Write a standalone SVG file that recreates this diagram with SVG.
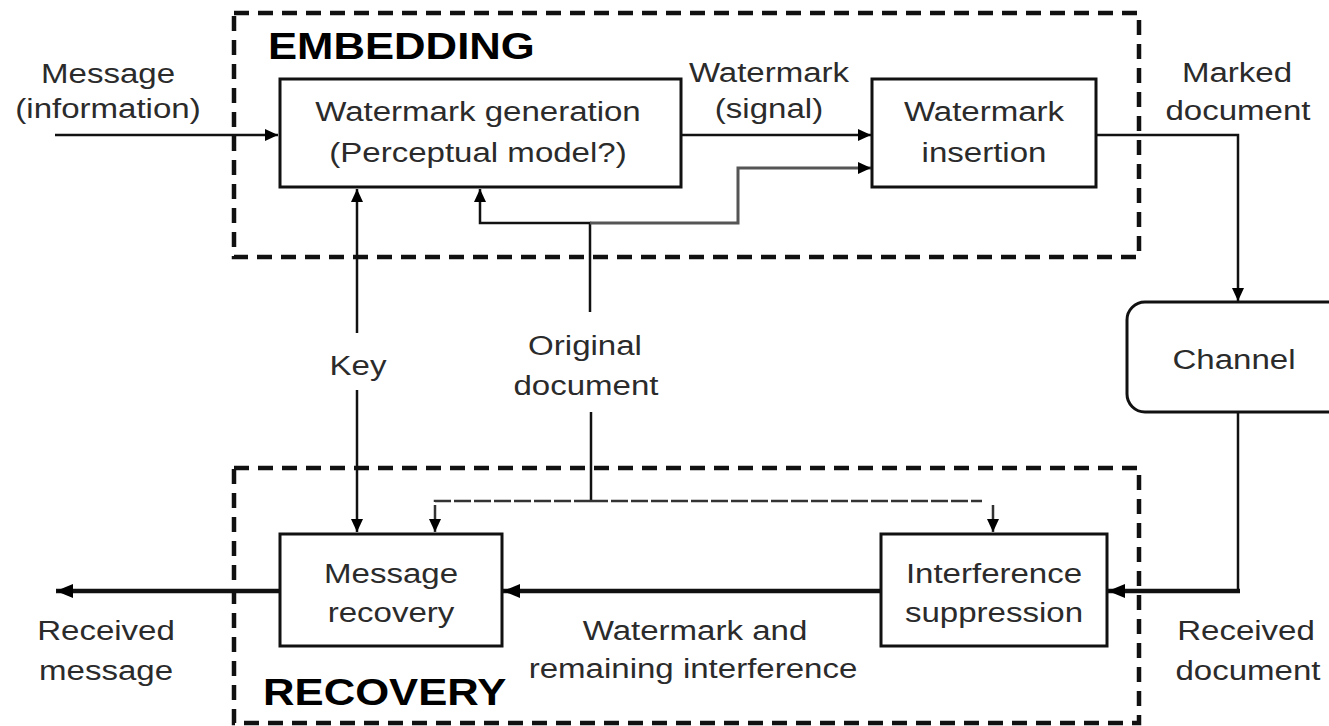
<svg xmlns="http://www.w3.org/2000/svg" width="1329" height="726" viewBox="0 0 1329 726">
  <style>
    .lbl { font-family: "Liberation Sans", Arial, sans-serif; font-size: 28px; fill: #2b2b2b; text-anchor: middle; }
    .ttl { font-family: "Liberation Sans", Arial, sans-serif; font-size: 37px; font-weight: bold; fill: #000; }
    .box { fill: #fff; stroke: #111; stroke-width: 3; }
    .frame { fill: none; stroke: #111; stroke-width: 4.5; stroke-dasharray: 15 9; }
    .ln { fill: none; stroke: #111; stroke-width: 2.5; }
    .gray { stroke: #555; stroke-width: 3; }
    .thick { stroke-width: 4.5; }
    .dsh { stroke: #333; stroke-width: 2.5; stroke-dasharray: 17 3; }
  </style>
  <defs>
    <marker id="ah" markerUnits="userSpaceOnUse" markerWidth="14" markerHeight="14" refX="13" refY="7" orient="auto">
      <path d="M0,1 L13,7 L0,13 z" fill="#000"/>
    </marker>
    <marker id="ahb" markerUnits="userSpaceOnUse" markerWidth="18" markerHeight="16" refX="17" refY="8" orient="auto">
      <path d="M0,1 L17,8 L0,15 z" fill="#000"/>
    </marker>
  </defs>
  <rect width="1329" height="726" fill="#fff"/>

  <g id="frame-embedding">
    <rect class="frame" x="234" y="13" width="905" height="244"/>
    <text class="ttl" transform="translate(268 59) scale(1.18 1)">EMBEDDING</text>
  </g>
  <g id="frame-recovery">
    <rect class="frame" x="234" y="468" width="905" height="255"/>
    <text class="ttl" transform="translate(263 705) scale(1.18 1)">RECOVERY</text>
  </g>

  <g id="connectors">
    <path class="ln" d="M55,135 H278" marker-end="url(#ah)"/>
    <path class="ln" d="M682,135 H871" marker-end="url(#ah)"/>
    <path class="ln" d="M1096,135 H1238 V301" marker-end="url(#ah)"/>
    <path class="ln" d="M590,312 V223 H480 V189" marker-end="url(#ah)"/>
    <path class="ln gray" d="M590,223 H738 V168 H871" marker-end="url(#ah)"/>
    <path class="ln" d="M357,333 V189" marker-end="url(#ah)"/>
    <path class="ln" d="M357,390 V532" marker-end="url(#ah)"/>
    <path class="ln" d="M591,412 V501"/>
    <path class="ln dsh" d="M591,501 H435 V532" marker-end="url(#ah)"/>
    <path class="ln dsh" d="M591,501 H982"/>
    <path class="ln dsh" d="M993,505 V532" marker-end="url(#ah)"/>
    <path class="ln" d="M1238,412 V591"/>
    <path class="ln thick" d="M1240,591 H1108" marker-end="url(#ahb)"/>
    <path class="ln thick" d="M881,591 H503" marker-end="url(#ahb)"/>
    <path class="ln thick" d="M280,591 H56" marker-end="url(#ahb)"/>
  </g>

  <g id="wm-generation">
    <rect class="box" x="280" y="79" width="401" height="108"/>
    <text class="lbl" transform="translate(478 121) scale(1.18 1)">Watermark generation</text>
    <text class="lbl" transform="translate(478 162) scale(1.18 1)">(Perceptual model?)</text>
  </g>
  <g id="wm-insertion">
    <rect class="box" x="872" y="79" width="224" height="108"/>
    <text class="lbl" transform="translate(984 121) scale(1.18 1)">Watermark</text>
    <text class="lbl" transform="translate(984 162) scale(1.18 1)">insertion</text>
  </g>
  <g id="channel">
    <rect class="box" x="1127" y="302" width="240" height="110" rx="18"/>
    <text class="lbl" transform="translate(1234 369) scale(1.18 1)">Channel</text>
  </g>
  <g id="msg-recovery">
    <rect class="box" x="280" y="534" width="222" height="112"/>
    <text class="lbl" transform="translate(391 583) scale(1.18 1)">Message</text>
    <text class="lbl" transform="translate(391 622) scale(1.18 1)">recovery</text>
  </g>
  <g id="interference-suppression">
    <rect class="box" x="881" y="534" width="226" height="112"/>
    <text class="lbl" transform="translate(994 583) scale(1.18 1)">Interference</text>
    <text class="lbl" transform="translate(994 622) scale(1.18 1)">suppression</text>
  </g>

  <g id="labels">
    <text class="lbl" transform="translate(108 83) scale(1.18 1)">Message</text>
    <text class="lbl" transform="translate(108 118) scale(1.18 1)">(information)</text>
    <text class="lbl" transform="translate(769 82) scale(1.18 1)">Watermark</text>
    <text class="lbl" transform="translate(769 118) scale(1.18 1)">(signal)</text>
    <text class="lbl" transform="translate(1237 82) scale(1.18 1)">Marked</text>
    <text class="lbl" transform="translate(1238 120) scale(1.18 1)">document</text>
    <text class="lbl" transform="translate(358 375) scale(1.18 1)">Key</text>
    <text class="lbl" transform="translate(585 355) scale(1.18 1)">Original</text>
    <text class="lbl" transform="translate(586 395) scale(1.18 1)">document</text>
    <text class="lbl" transform="translate(106 640) scale(1.18 1)">Received</text>
    <text class="lbl" transform="translate(106 680) scale(1.18 1)">message</text>
    <text class="lbl" transform="translate(695 640) scale(1.18 1)">Watermark and</text>
    <text class="lbl" transform="translate(693 678) scale(1.18 1)">remaining interference</text>
    <text class="lbl" transform="translate(1246 640) scale(1.18 1)">Received</text>
    <text class="lbl" transform="translate(1248 680) scale(1.18 1)">document</text>
  </g>
</svg>
